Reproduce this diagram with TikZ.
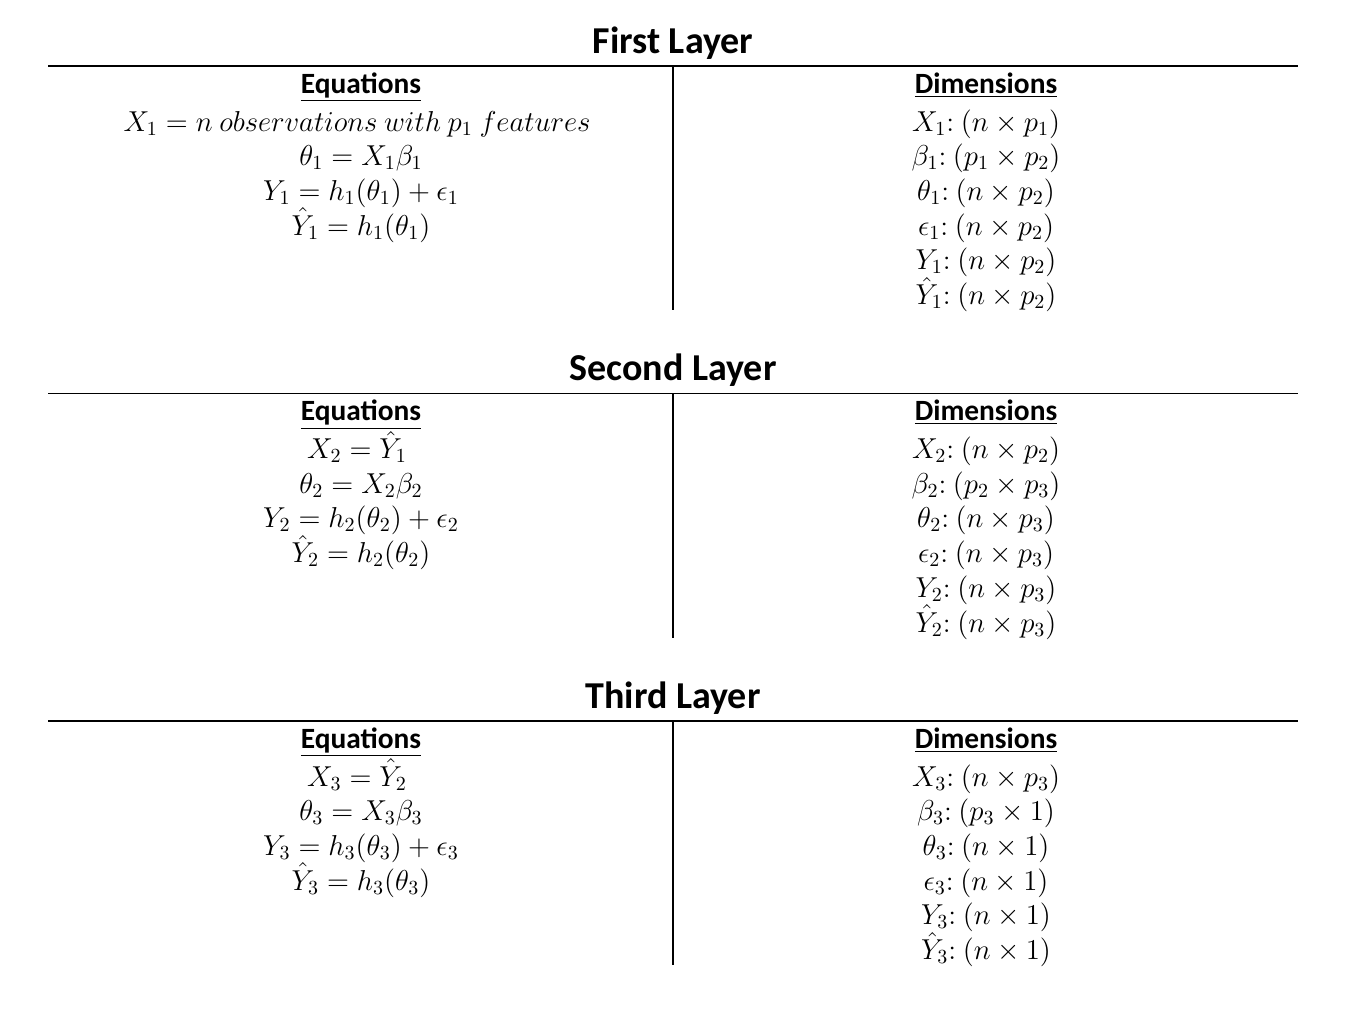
\documentclass[tikz,border=0pt]{standalone}
\usepackage{fontspec}
\setmainfont{Carlito}
\begin{document}
\begin{tikzpicture}[x=0.5pt,y=-0.5pt,
    layertitle/.style={anchor=base,inner sep=0pt,font=\fontsize{19}{22}\selectfont\bfseries},
    colhead/.style={anchor=base,inner sep=0pt,font=\fontsize{14.7}{17}\selectfont\bfseries},
    mathline/.style={anchor=base,inner sep=0pt,font=\fontsize{14.6}{17}\selectfont},
    rule/.style={line width=0.75pt}]
    \useasboundingbox (0,0) rectangle (1372,1013);
    \foreach \k/\name/\nxt/\xeq in {1/First/p_2/{n\ observations\ with\ p_1\ features},
        2/Second/p_3/{\hat{Y}_1}, 3/Third/1/{\hat{Y}_2}}{
    \pgfmathsetmacro\oy{(\k-1)*327.5}
    \begin{scope}[shift={(0,\oy)}]
        % title and rules
        \node[layertitle] (title\k) at (673,53) {\name{} Layer};
        \coordinate (left\k) at (48,66);
        \coordinate (right\k) at (1298,66);
        \coordinate (top\k) at (673,66);
        \coordinate (bot\k) at (673,310);
        \draw[rule] (left\k) -- (right\k);
        \draw[rule] (top\k) -- (bot\k);
        % equations
        \node[colhead] (eqhead\k) at (361,93) {\underline{Equations}};
        \node[mathline] (eq\k-1) at (357,131) {$X_{\k} = \xeq$};
        \node[mathline] (eq\k-2) at (361,165.5) {$\theta_{\k} = X_{\k}\beta_{\k}$};
        \node[mathline] (eq\k-3) at (361,200) {$Y_{\k} = h_{\k}(\theta_{\k}) + \epsilon_{\k}$};
        \node[mathline] (eq\k-4) at (361,235) {$\hat{Y}_{\k} = h_{\k}(\theta_{\k})$};
        % dimensions
        \node[colhead] (dimhead\k) at (986,93) {\underline{Dimensions}};
        \node[mathline] (dim\k-1) at (986,131) {$X_{\k}{:}\ (n \times p_{\k})$};
        \node[mathline] (dim\k-2) at (986,165.5) {$\beta_{\k}{:}\ (p_{\k} \times \nxt)$};
        \node[mathline] (dim\k-3) at (986,200) {$\theta_{\k}{:}\ (n \times \nxt)$};
        \node[mathline] (dim\k-4) at (986,235) {$\epsilon_{\k}{:}\ (n \times \nxt)$};
        \node[mathline] (dim\k-5) at (986,269.5) {$Y_{\k}{:}\ (n \times \nxt)$};
        \node[mathline] (dim\k-6) at (986,304.5) {$\hat{Y}_{\k}{:}\ (n \times \nxt)$};
    \end{scope}
    }
\end{tikzpicture}
\end{document}
